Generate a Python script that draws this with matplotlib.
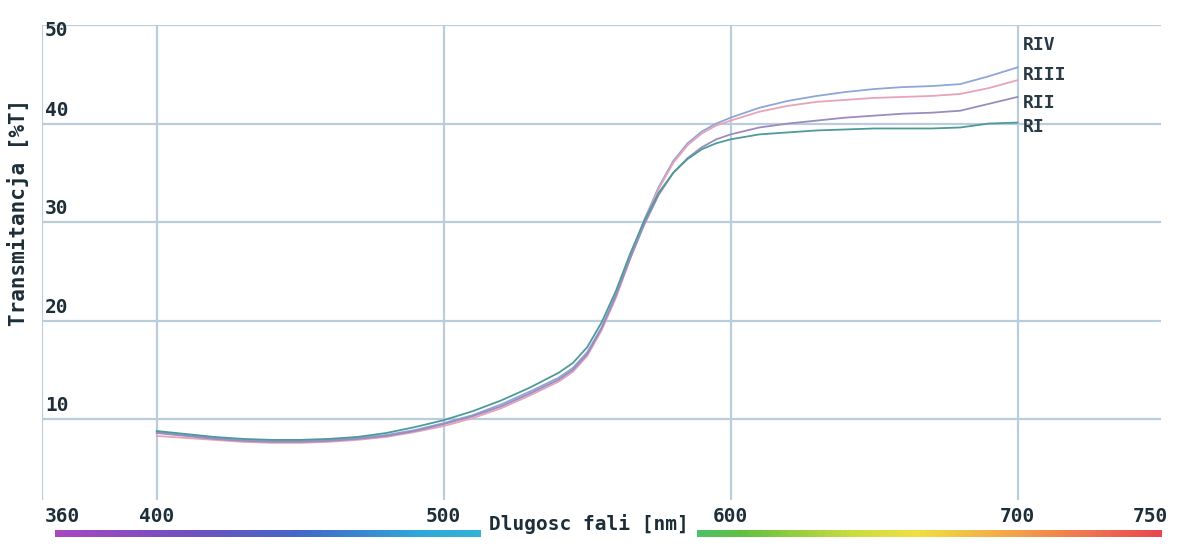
import matplotlib
matplotlib.use("Agg")
import matplotlib.pyplot as plt
import numpy as np
from matplotlib.colors import LinearSegmentedColormap

plt.rcParams['font.family'] = ['DejaVu Sans Mono']

# wavelength [nm]
wl = [400, 410, 420, 430, 440, 450, 460, 470, 480, 490, 500, 510, 520, 530, 540,
      545, 550, 555, 560, 565, 570, 575, 580, 585, 590, 595, 600,
      610, 620, 630, 640, 650, 660, 670, 680, 690, 700]

riv = [8.7, 8.4, 8.1, 7.9, 7.8, 7.8, 7.9, 8.1, 8.4, 8.9, 9.6, 10.4, 11.5, 12.8, 14.2,
       15.2, 16.8, 19.3, 22.6, 26.5, 30.3, 33.6, 36.2, 38.0, 39.2, 40.0, 40.6,
       41.6, 42.3, 42.8, 43.2, 43.5, 43.7, 43.8, 44.0, 44.8, 45.7]
riii = [8.3, 8.1, 7.9, 7.7, 7.6, 7.6, 7.7, 7.9, 8.2, 8.7, 9.3, 10.1, 11.1, 12.4, 13.8,
        14.8, 16.4, 19.0, 22.3, 26.3, 30.1, 33.4, 36.0, 37.8, 39.0, 39.8, 40.3,
        41.2, 41.8, 42.2, 42.4, 42.6, 42.7, 42.8, 43.0, 43.6, 44.4]
rii = [8.6, 8.3, 8.0, 7.8, 7.7, 7.7, 7.8, 8.0, 8.3, 8.8, 9.5, 10.3, 11.3, 12.6, 14.0,
       15.0, 16.6, 19.2, 22.5, 26.3, 29.8, 32.8, 35.0, 36.5, 37.6, 38.4, 38.9,
       39.6, 40.0, 40.3, 40.6, 40.8, 41.0, 41.1, 41.3, 42.0, 42.7]
ri = [8.8, 8.5, 8.2, 8.0, 7.9, 7.9, 8.0, 8.2, 8.6, 9.2, 9.9, 10.8, 11.9, 13.2, 14.7,
      15.7, 17.3, 19.8, 23.0, 26.8, 30.2, 33.0, 35.0, 36.4, 37.4, 38.0, 38.4,
      38.9, 39.1, 39.3, 39.4, 39.5, 39.5, 39.5, 39.6, 40.0, 40.1]

series = [("RIV", riv, "#8fa6d8"), ("RIII", riii, "#e8a4b6"),
          ("RII", rii, "#9a8cc0"), ("RI", ri, "#4f9a98")]
label_y = [48.0, 44.9, 42.1, 39.6]

x_ticks = [360, 400, 500, 600, 700, 750]
y_ticks = [10, 20, 30, 40, 50]

W, H = 1177, 544
fig = plt.figure(figsize=(W / 100, H / 100), dpi=100)
ax = fig.add_axes([42 / W, 1 - 500 / H, (1161 - 42) / W, (500 - 25) / H])
ax.set_xlim(360, 750)
ax.set_ylim(1.8, 50)
for s in ax.spines.values():
    s.set_visible(False)
ax.set_xticks([])
ax.set_yticks([])

grid_c = "#b9cdda"
for yv in y_ticks:
    ax.axhline(yv, color=grid_c, lw=1.6, zorder=1)
for xv in [360, 400, 500, 600, 700]:
    ax.axvline(xv, color=grid_c, lw=1.6, zorder=1)

for name, vals, c in series:
    ax.plot(wl, vals, color=c, lw=1.3, zorder=3)

txt = dict(fontsize=14, fontweight='bold', color="#1e2e38")
for (name, vals, c), ly in zip(series, label_y):
    ax.text(701.8, ly, name, va='center', ha='left', zorder=4,
            fontsize=13, fontweight='bold', color="#2a3a44")

for yv in y_ticks:
    if yv == 50:
        ax.text(361, 49.4, "50", va='center', ha='left', **txt)
    else:
        ax.text(361, yv + 0.4, str(yv), va='bottom', ha='left', **txt)

fig.text(18 / W, 1 - 212 / H, "Transmitancja [%T]", rotation=90,
         ha='center', va='center', fontsize=15, fontweight='bold', color="#1e2e38")

# x tick labels below plot
for xv in x_ticks:
    ha = 'center'
    fx = (42 + (xv - 360) * (1161 - 42) / 390) / W
    if xv == 360:
        ha, fx = 'left', 45 / W
    elif xv == 750:
        ha, fx = 'right', 1168 / W
    fig.text(fx, 1 - 516 / H, str(xv), ha=ha, va='center', **txt)

# rainbow wavelength bar
cmap = LinearSegmentedColormap.from_list("spec", [
    (0.0, "#a848c0"), (0.12, "#7050c0"), (0.22, "#4468c8"), (0.33, "#30a8d8"),
    (0.42, "#30bcd8"), (0.55, "#40c090"), (0.62, "#60c040"), (0.72, "#c8dc40"),
    (0.78, "#f0e040"), (0.86, "#f4a848"), (0.93, "#f07850"), (1.0, "#e84850")])
bar = fig.add_axes([55 / W, 1 - 537 / H, (1162 - 55) / W, 7 / H])
bar.imshow(np.linspace(0, 1, 400)[None, :], aspect='auto', cmap=cmap)
bar.axis('off')

fig.text(589 / W, 1 - 524 / H, "Dlugosc fali [nm]", ha='center', va='center',
         bbox=dict(facecolor='white', edgecolor='none', pad=6), zorder=5, **txt)

fig.savefig("out.png", dpi=100)
